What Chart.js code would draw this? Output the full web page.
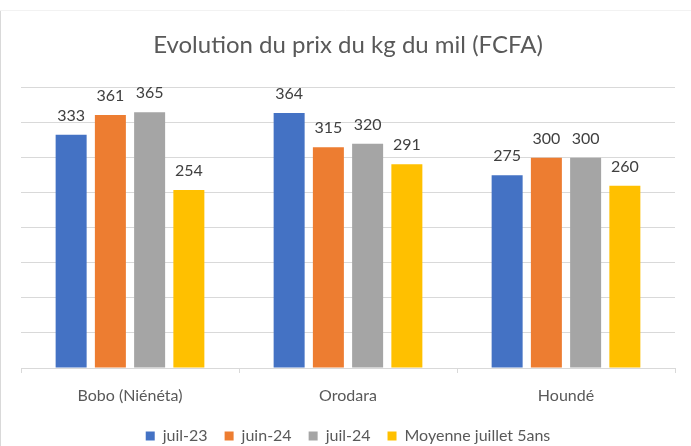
<!DOCTYPE html>
<html>
<head>
<meta charset="utf-8">
<script src="https://cdn.jsdelivr.net/npm/chart.js@4/dist/chart.umd.min.js"></script>
<style>
  html, body { margin: 0; padding: 0; background: #ffffff; overflow: hidden; }
  #wrap { width: 691px; height: 446px; position: relative; }
</style>
</head>
<body>
<div id="wrap"><canvas id="c" width="691" height="446"></canvas></div>
<script>
const categories = ["Bobo (Niénéta)", "Orodara", "Houndé"];
const seriesNames = ["juil-23", "juin-24", "juil-24", "Moyenne juillet 5ans"];
const juil23 = [333, 364, 275];
const juin24 = [361, 315, 300];
const juil24 = [365, 320, 300];
const moyenne5ans = [254, 291, 260];
const colors = ["#4472C4", "#ED7D31", "#A5A5A5", "#FFC000"];
const yMin = 0, yMax = 400, yStep = 50;

const FONT = "Lato, 'Open Sans', 'Liberation Sans', sans-serif";

const labelPlugin = {
  id: 'valueLabels',
  afterDatasetsDraw(chart) {
    const ctx = chart.ctx;
    ctx.save();
    ctx.font = "16px " + FONT;
    ctx.fillStyle = "#404040";
    ctx.textAlign = "center";
    ctx.textBaseline = "alphabetic";
    chart.data.datasets.forEach((ds, i) => {
      const meta = chart.getDatasetMeta(i);
      meta.data.forEach((el, j) => {
        ctx.fillText(String(ds.data[j]), el.x, el.y - 14);
      });
    });
    ctx.restore();
  }
};

const framePlugin = {
  id: 'frame',
  beforeDraw(chart) {
    const ctx = chart.ctx;
    ctx.save();
    ctx.fillStyle = "#ffffff";
    ctx.fillRect(0, 0, chart.width, chart.height);
    ctx.strokeStyle = "#d9d9d9";
    ctx.lineWidth = 1;
    ctx.beginPath();
    ctx.moveTo(0.5, 10);
    ctx.lineTo(0.5, chart.height);
    ctx.stroke();
    ctx.strokeStyle = "#f2f2f2";
    ctx.beginPath();
    ctx.moveTo(0, 10.5);
    ctx.lineTo(chart.width, 10.5);
    ctx.stroke();
    ctx.restore();
  }
};

const seriesData = [juil23, juin24, juil24, moyenne5ans];

new Chart(document.getElementById('c'), {
  type: 'bar',
  data: {
    labels: categories,
    datasets: seriesNames.map((name, i) => ({
      label: name,
      data: seriesData[i],
      backgroundColor: colors[i],
      borderWidth: 0,
      categoryPercentage: 0.72,
      barPercentage: 0.79
    }))
  },
  options: {
    responsive: false,
    animation: false,
    devicePixelRatio: 1,
    layout: { padding: { left: 21, right: 16, top: 0, bottom: -8 } },
    plugins: {
      title: {
        display: true,
        text: "Evolution du prix du kg du mil (FCFA)",
        color: "#595959",
        font: { family: FONT, size: 24, weight: 'normal' },
        padding: { top: 31, bottom: 28 }
      },
      legend: {
        display: true,
        position: 'bottom',
        labels: {
          color: "#595959",
          font: { family: FONT, size: 16 },
          boxWidth: 9,
          boxHeight: 9,
          padding: 17
        }
      },
      tooltip: { enabled: false }
    },
    scales: {
      x: {
        grid: { drawOnChartArea: false, drawTicks: true, tickLength: 5, color: "#d9d9d9", offset: true },
        border: { display: true, color: "#d9d9d9", width: 1 },
        ticks: { color: "#595959", font: { family: FONT, size: 16 }, padding: 13 },
        afterFit(scale) { scale.height = 43; }
      },
      y: {
        min: yMin,
        max: yMax,
        ticks: { display: false, stepSize: yStep },
        grid: { color: "#d9d9d9", drawTicks: false, lineWidth: 1 },
        border: { display: false }
      }
    }
  },
  plugins: [framePlugin, labelPlugin]
});
</script>
</body>
</html>
